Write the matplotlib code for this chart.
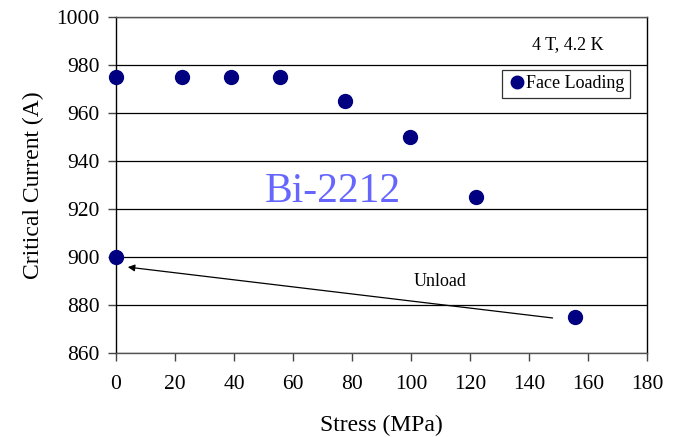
import matplotlib
matplotlib.use("Agg")
import matplotlib.pyplot as plt

stress = [0, 22.4, 39, 55.6, 77.6, 99.7, 122, 155.6, 0]
current = [975, 975, 975, 975, 965, 950, 925, 875, 900]
xticks = list(range(0, 181, 20))
yticks = list(range(860, 1001, 20))

plt.rcParams['font.family'] = ['Liberation Serif', 'DejaVu Serif']

fig = plt.figure(figsize=(6.77, 4.37), dpi=100)
ax = fig.add_axes([0.1713, 0.1922, 0.7844, 0.7688])

ax.set_xlim(0, 180)
ax.set_ylim(860, 1000)
ax.set_xticks(xticks)
ax.set_yticks(yticks)
ax.yaxis.grid(True, color='black', linewidth=0.9)
ax.set_axisbelow(True)
ax.tick_params(axis='both', labelsize=15.5, direction='out', length=6, width=1, color='#444444')
ax.tick_params(axis='x', pad=10)
ax.tick_params(axis='y', pad=6)
for s in ['left', 'right']:
    ax.spines[s].set_color('black')
for s in ['top', 'bottom']:
    ax.spines[s].set_color('#555555')
for s in ax.spines.values():
    s.set_linewidth(1.0)

ax.plot(stress, current, linestyle='none', marker='o', markersize=10,
        color='#000080', label='Face Loading', clip_on=False, zorder=5)

ax.set_xlabel('Stress (MPa)', fontsize=17, labelpad=15)
ax.set_ylabel('Critical Current (A)', fontsize=17, labelpad=9)

ax.annotate('', xy=(4, 895.8), xytext=(148, 874.6),
            arrowprops=dict(arrowstyle='-|>', color='black', lw=0.9,
                            mutation_scale=10, shrinkA=0, shrinkB=0))
ax.text(110, 890, 'Unload', fontsize=13, ha='center', va='center')
ax.text(153, 988.7, '4 T, 4.2 K', fontsize=13, ha='center', va='center')
ax.text(73.6, 927, 'Bi-2212', fontsize=30, ha='center', va='center', color='#6666ff')

leg = ax.legend(loc='upper right', bbox_to_anchor=(0.9685, 0.843), fontsize=13,
                frameon=True, fancybox=False, handletextpad=0.05, handlelength=1.0,
                borderpad=0.3, borderaxespad=0, markerscale=0.9)
leg.get_frame().set_edgecolor('black')
leg.get_frame().set_linewidth(0.9)

fig.savefig('out.png', dpi=100)
